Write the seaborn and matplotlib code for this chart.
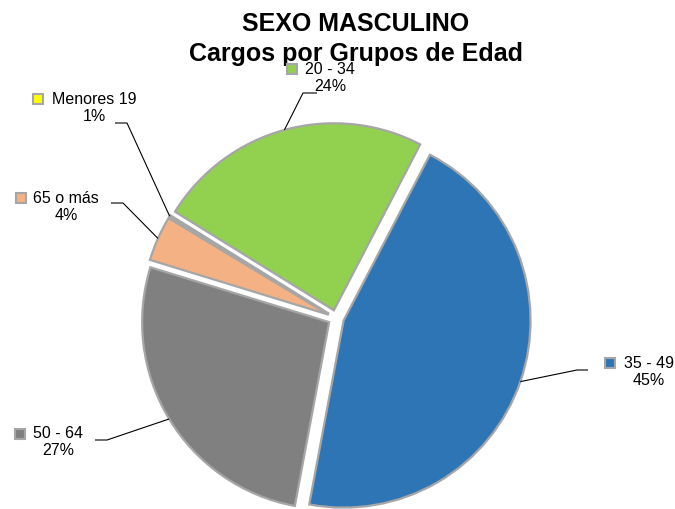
import numpy as np
import matplotlib
matplotlib.use("Agg")
import matplotlib.pyplot as plt
import seaborn as sns

# ---- data ----
categories = ["35 - 49", "50 - 64", "65 o más", "Menores 19", "20 - 34"]
shares = [45.3, 26.8, 3.9, 0.2, 23.8]          # estimated shares (%)
pct_labels = ["45%", "27%", "4%", "1%", "24%"]  # labels as printed
colors = ["#2E75B6", "#808080", "#F4B183", "#FFFF00", "#92D050"]
title = "SEXO MASCULINO\nCargos por Grupos de Edad"

# ---- layout (pixel coords, origin top-left) ----
W, H = 675, 509
pie_center = (336, 318)
pie_radius = 187
explode_px = 8
label_pos = [(649, 364), (58, 434), (66, 199), (94, 100), (330, 70)]
marker_pos = [(609.5, 363), (19.5, 433.5), (20.5, 197.5), (37.5, 99), (292, 69)]
elbow_pos = [(577, 370), (107, 440), (123, 203), (127, 123), (303, 93)]
end_pos = [(588, 370), (95, 440), (111, 203), (115, 123), (317, 93)]

sns.set_theme(style="white")
plt.rcParams["font.family"] = ["Liberation Sans", "DejaVu Sans"]

fig = plt.figure(figsize=(W / 100, H / 100), dpi=100)
ax = fig.add_axes([0, 0, 1, 1])


def P(x, y):
    return (x, H - y)


wedges, _ = ax.pie(
    shares,
    colors=colors,
    startangle=62.5,
    counterclock=False,
    center=P(*pie_center),
    radius=pie_radius,
    explode=[explode_px] * len(shares),
    wedgeprops=dict(edgecolor="#A6A6A6", linewidth=1.6),
    frame=True,
)
ax.set_aspect("auto")
ax.set_xlim(0, W)
ax.set_ylim(0, H)
ax.axis("off")

for i, w in enumerate(wedges):
    mid = np.deg2rad((w.theta1 + w.theta2) / 2)
    cx, cy = w.center
    ex = cx + w.r * np.cos(mid)
    ey = cy + w.r * np.sin(mid)
    elx, ely = P(*elbow_pos[i])
    enx, eny = P(*end_pos[i])
    ax.plot([ex, elx, enx], [ey, ely, eny], color="black", lw=0.8,
            solid_capstyle="butt", zorder=5)
    lx, ly = P(*label_pos[i])
    ax.text(lx, ly + 8.5, f"{categories[i]}\n{pct_labels[i]}", ha="center",
            va="top", fontsize=11.5, color="black", linespacing=1.2, zorder=6)
    mx, my = P(*marker_pos[i])
    ax.plot([mx], [my], marker="s", markersize=6.5, markerfacecolor=colors[i],
            markeredgecolor="#A6A6A6", markeredgewidth=1.5, linestyle="none",
            zorder=6)

tx, ty = P(356, 39)
ax.text(tx, ty, title, ha="center", va="center", fontsize=18,
        fontweight="bold", color="black", linespacing=1.33)

fig.savefig("out.png", dpi=100)
